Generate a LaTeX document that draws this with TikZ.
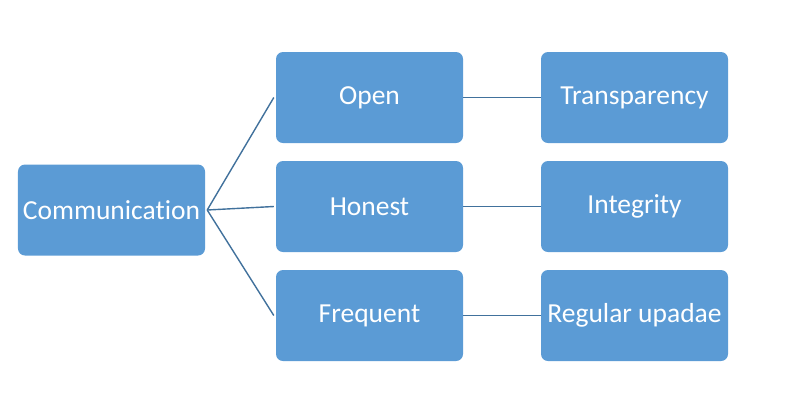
\documentclass[tikz,border=0pt]{standalone}
\usepackage{fontspec}
\setmainfont{Carlito}[RawFeature={-liga}]
\definecolor{boxfill}{HTML}{5B9BD5}
\definecolor{linec}{HTML}{41719C}
\begin{document}
\begin{tikzpicture}[x=1bp,y=-1bp,
  box/.style={fill=boxfill, draw=none, rounded corners=7bp, minimum width=187bp, minimum height=91bp, inner sep=0pt, text=white, font=\fontsize{27.5bp}{33bp}\selectfont},
  conn/.style={draw=linec, line width=1.4bp}]
\useasboundingbox (0,0) rectangle (791,400);
\node[box] (comm) at (111.5,210) {Communication};
\node[box] (open) at (369.5,97.5) {Open};
\node[box] (hon) at (369.5,206.5) {Honest};
\node[box] (freq) at (369.5,315.5) {Frequent};
\node[box] (trans) at (634.5,97.5) {Transparency};
\node[box] (integ) at (634.5,206.5) {Integrity};
\node[box] (reg) at (634.5,315.5) {Regular upadae};
\coordinate (c) at ([xshift=2bp]comm.east);
\draw[conn] (c) -- ([xshift=-2bp]open.west);
\draw[conn] (c) -- ([xshift=-2bp]hon.west);
\draw[conn] (c) -- ([xshift=-2bp]freq.west);
\draw[conn] (open.east) -- (trans.west);
\draw[conn] (hon.east) -- (integ.west);
\draw[conn] (freq.east) -- (reg.west);
\end{tikzpicture}
\end{document}
